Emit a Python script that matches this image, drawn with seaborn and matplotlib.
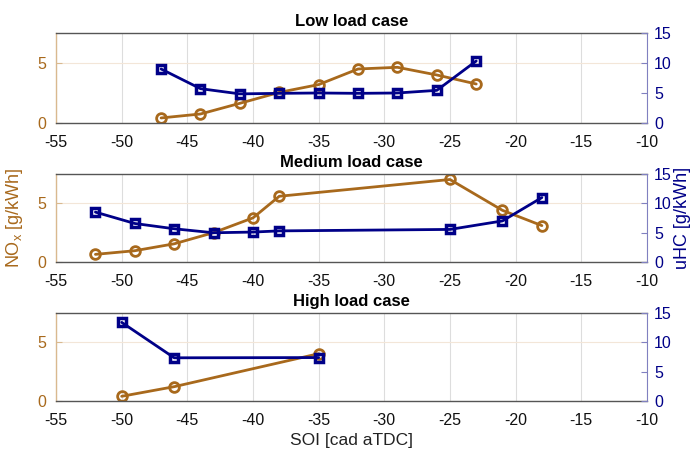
import matplotlib
matplotlib.use("Agg")
import matplotlib.pyplot as plt
import seaborn as sns
import pandas as pd

sns.set_style("white")
plt.rcParams['font.family'] = ['Liberation Sans', 'DejaVu Sans']

ORANGE = '#A8691C'
NAVY = '#000088'

titles = ["Low load case", "Medium load case", "High load case"]

low_soi = [-47, -44, -41, -38, -35, -32, -29, -26, -23]
low_nox = [0.42, 0.75, 1.64, 2.55, 3.2, 4.5, 4.64, 4.0, 3.25]
low_uhc = [9.0, 5.72, 4.85, 4.94, 5.0, 4.94, 5.0, 5.44, 10.33]

med_soi = [-52, -49, -46, -43, -40, -38, -25, -21, -18]
med_nox = [0.65, 0.96, 1.55, 2.5, 3.76, 5.6, 7.03, 4.4, 3.1]
med_uhc = [8.5, 6.56, 5.66, 4.98, 5.1, 5.3, 5.55, 7.0, 10.98]

high_soi = [-50, -46, -35]
high_nox = [0.4, 1.22, 4.03]
high_uhc = [13.4, 7.36, 7.4]

x_ticks = [-55, -50, -45, -40, -35, -30, -25, -20, -15, -10]

cases = [(low_soi, low_nox, low_uhc), (med_soi, med_nox, med_uhc), (high_soi, high_nox, high_uhc)]

fig = plt.figure(figsize=(6.96, 4.5), dpi=100)
L, W = 0.0805, 0.849
rects = [(L, 0.7267, W, 0.2), (L, 0.4178, W, 0.1956), (L, 0.1089, W, 0.1956)]

for i, ((soi, nox, uhc), rect, title) in enumerate(zip(cases, rects, titles)):
    ax = fig.add_axes(rect)
    df = pd.DataFrame({"SOI": soi, "NOx": nox, "uHC": uhc})
    sns.lineplot(data=df, x="SOI", y="NOx", ax=ax, color=ORANGE, marker='o',
                 markersize=7, markerfacecolor='none', markeredgecolor=ORANGE,
                 markeredgewidth=2, linewidth=2, sort=False)
    ax.set_xlim(-55, -10)
    ax.set_ylim(0, 7.5)
    ax.set_xticks(x_ticks)
    ax.set_xticklabels([str(t) for t in x_ticks])
    ax.set_yticks([0, 5])
    ax.grid(True, axis='x', color='#dddddd', linewidth=0.8)
    ax.grid(True, axis='y', color='#f3e6d8', linewidth=0.8)
    ax.set_axisbelow(True)
    ax.tick_params(axis='x', direction='in', length=4, colors='#333333', labelsize=11.5,
                   labelcolor='#111111', pad=9)
    ax.tick_params(axis='y', direction='in', length=4, colors='#d9b98f', labelsize=11.5,
                   labelcolor=ORANGE, pad=7)
    ax.spines['left'].set_color('#d9b98f')
    ax.spines['top'].set_color('#555555')
    ax.spines['bottom'].set_color('#555555')
    ax.spines['right'].set_visible(False)
    for s in ax.spines.values():
        s.set_linewidth(1.0)
    ax.set_xlabel("")
    ax.set_ylabel("")

    ax2 = ax.twinx()
    sns.lineplot(data=df, x="SOI", y="uHC", ax=ax2, color=NAVY, marker='s',
                 markersize=6, markerfacecolor='none', markeredgecolor=NAVY,
                 markeredgewidth=2.5, linewidth=2, sort=False)
    ax2.set_ylim(0, 15)
    ax2.set_yticks([0, 5, 10, 15])
    ax2.tick_params(axis='y', direction='in', length=4, colors='#8080c0', labelsize=11.5,
                    labelcolor=NAVY, pad=5)
    ax2.spines['right'].set_color('#8080c0')
    ax2.spines['left'].set_visible(False)
    ax2.spines['top'].set_visible(False)
    ax2.spines['bottom'].set_visible(False)
    ax2.set_xlabel("")
    ax2.set_ylabel("")
    ax2.grid(False)
    ax2.set_xlim(-55, -10)

    ax.set_title(title, fontsize=12, fontweight='bold', pad=5, color='black')

    if i == 1:
        ax.set_ylabel("NO$_\\mathregular{x}$ [g/kWh]", color=ORANGE, fontsize=13, labelpad=9)
        ax2.set_ylabel("uHC [g/kWh]", color=NAVY, fontsize=13, labelpad=2)
    if i == 2:
        ax.set_xlabel("SOI [cad aTDC]", fontsize=12.5, color='#222222', labelpad=3)

fig.savefig("out.png", dpi=100)
